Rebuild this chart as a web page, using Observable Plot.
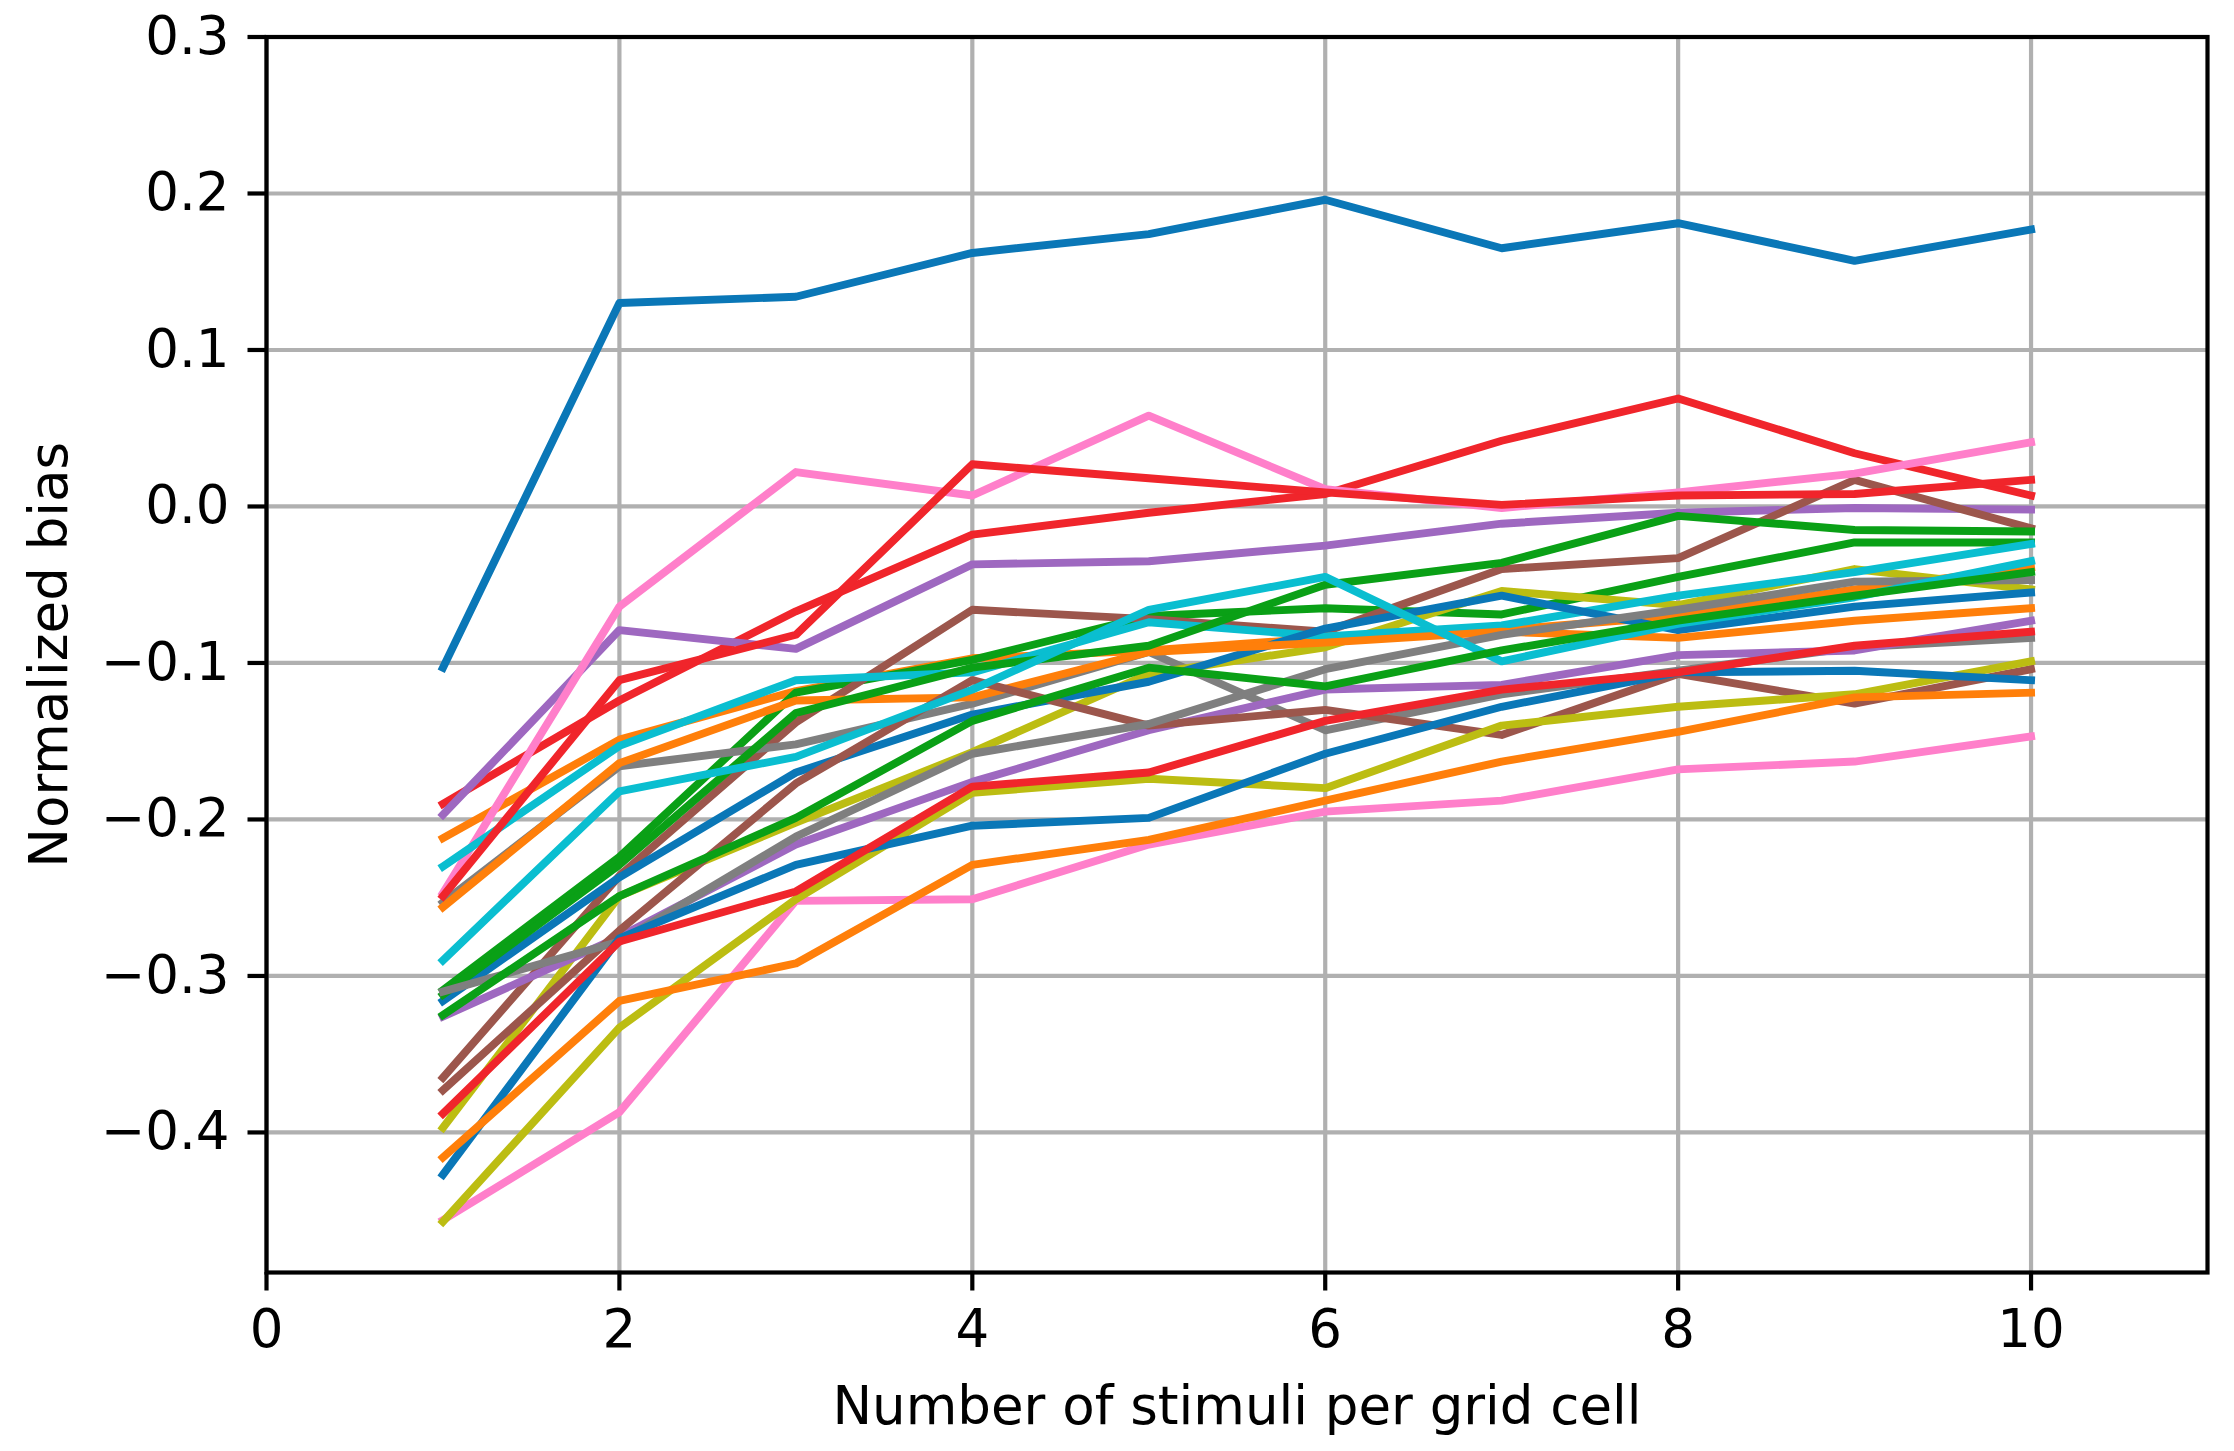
<!DOCTYPE html>
<html>
<head>
<meta charset="utf-8">
<script src="https://cdn.jsdelivr.net/npm/d3@7"></script>
<script src="https://cdn.jsdelivr.net/npm/@observablehq/plot@0.6"></script>
<style>
  html, body { margin: 0; padding: 0; background: #ffffff; }
  #chart svg { display: block; }
</style>
</head>
<body>
<div id="chart"></div>
<script>
// x positions: number of stimuli per grid cell
const stimuli = [1, 2, 3, 4, 5, 6, 7, 8, 9, 10];

// tick values
const xTicks = [0, 2, 4, 6, 8, 10];
const yTicks = [-0.4, -0.3, -0.2, -0.1, 0, 0.1, 0.2, 0.3];

// series values (normalized bias)
const blue1   = [-0.103, 0.130, 0.134, 0.162, 0.174, 0.196, 0.165, 0.181, 0.157, 0.177];
const orange1 = [-0.212, -0.149, -0.118, -0.097, -0.092, -0.084, -0.079, -0.070, -0.053, -0.039];
const green1  = [-0.309, -0.224, -0.119, -0.098, -0.070, -0.065, -0.069, -0.045, -0.023, -0.023];
const red1    = [-0.190, -0.124, -0.067, -0.018, -0.004, 0.008, 0.042, 0.069, 0.034, 0.007];
const purple1 = [-0.197, -0.079, -0.091, -0.037, -0.035, -0.025, -0.011, -0.004, -0.001, -0.002];
const brown1  = [-0.365, -0.236, -0.138, -0.066, -0.072, -0.080, -0.040, -0.033, 0.017, -0.014];
const pink1   = [-0.247, -0.064, 0.022, 0.007, 0.058, 0.011, -0.001, 0.009, 0.021, 0.041];
const gray1   = [-0.253, -0.166, -0.152, -0.126, -0.093, -0.143, -0.120, -0.105, -0.090, -0.084];
const olive1  = [-0.397, -0.249, -0.202, -0.157, -0.107, -0.090, -0.054, -0.063, -0.040, -0.053];
const cyan1   = [-0.230, -0.153, -0.111, -0.106, -0.074, -0.083, -0.076, -0.057, -0.042, -0.024];
const blue2   = [-0.316, -0.237, -0.170, -0.133, -0.112, -0.078, -0.057, -0.079, -0.064, -0.055];
const orange2 = [-0.256, -0.164, -0.124, -0.122, -0.093, -0.087, -0.080, -0.084, -0.073, -0.065];
const green2  = [-0.312, -0.229, -0.132, -0.103, -0.089, -0.050, -0.036, -0.006, -0.015, -0.016];
const red2    = [-0.249, -0.111, -0.082, 0.027, 0.018, 0.009, 0.001, 0.007, 0.008, 0.017];
const purple2 = [-0.326, -0.275, -0.216, -0.176, -0.143, -0.117, -0.114, -0.095, -0.092, -0.073];
const brown2  = [-0.373, -0.271, -0.177, -0.111, -0.140, -0.130, -0.146, -0.107, -0.126, -0.104];
const pink2   = [-0.456, -0.387, -0.252, -0.251, -0.216, -0.195, -0.188, -0.168, -0.163, -0.147];
const gray2   = [-0.310, -0.278, -0.211, -0.158, -0.139, -0.104, -0.082, -0.066, -0.048, -0.047];
const olive2  = [-0.457, -0.333, -0.251, -0.183, -0.174, -0.180, -0.140, -0.128, -0.120, -0.099];
const cyan2   = [-0.290, -0.182, -0.160, -0.117, -0.066, -0.045, -0.099, -0.075, -0.058, -0.035];
const blue3   = [-0.427, -0.276, -0.229, -0.204, -0.199, -0.158, -0.128, -0.106, -0.105, -0.111];
const orange3 = [-0.416, -0.316, -0.292, -0.229, -0.213, -0.188, -0.163, -0.144, -0.122, -0.119];
const green3  = [-0.325, -0.249, -0.199, -0.137, -0.103, -0.115, -0.092, -0.073, -0.057, -0.042];
const red3    = [-0.388, -0.278, -0.246, -0.179, -0.170, -0.137, -0.117, -0.106, -0.089, -0.080];

// colour cycle
const cBlue = "#0a77b7", cOrange = "#ff7f0a", cGreen = "#0aa016", cRed = "#f0252b",
      cPurple = "#9e68c0", cBrown = "#9c564c", cPink = "#ff7fca", cGray = "#7f7f7f",
      cOlive = "#bcbd12", cCyan = "#0abed0";

const seriesList = [
  [blue1, cBlue], [orange1, cOrange], [green1, cGreen], [red1, cRed], [purple1, cPurple],
  [brown1, cBrown], [pink1, cPink], [gray1, cGray], [olive1, cOlive], [cyan1, cCyan],
  [blue2, cBlue], [orange2, cOrange], [green2, cGreen], [red2, cRed], [purple2, cPurple],
  [brown2, cBrown], [pink2, cPink], [gray2, cGray], [olive2, cOlive], [cyan2, cCyan],
  [blue3, cBlue], [orange3, cOrange], [green3, cGreen], [red3, cRed]
];

const fmtY = d => {
  const s = (Math.abs(d) < 1e-9 ? 0 : d).toFixed(1);
  return s.replace("-", "\u2212");
};

const FS = 53;
const gridStyle = {stroke: "#b0b0b0", strokeOpacity: 1, strokeWidth: 4.2};

const lineMarks = seriesList.map(([vals, col]) =>
  Plot.line(stimuli.map((x, i) => ({x, y: vals[i]})), {
    x: "x", y: "y", stroke: col, strokeWidth: 7.9,
    strokeLinejoin: "round", strokeLinecap: "square"
  })
);

const chart = Plot.plot({
  width: 2234,
  height: 1451,
  marginLeft: 266,
  marginRight: 27,
  marginTop: 36.5,
  marginBottom: 179,
  style: {fontFamily: "'DejaVu Sans', sans-serif", fontSize: FS + "px", background: "#ffffff", color: "#000000"},
  x: {domain: [0, 11]},
  y: {domain: [-0.4895, 0.3]},
  marks: [
    Plot.gridX(xTicks, gridStyle),
    Plot.gridY(yTicks, gridStyle),
    ...lineMarks,
    Plot.frame({stroke: "#000000", strokeWidth: 4.2}),
    Plot.axisX(xTicks, {
      tickSize: 18.5, tickPadding: 18.5, strokeWidth: 4.2, fontSize: FS,
      tickFormat: d => String(d),
      label: "Number of stimuli per grid cell", labelAnchor: "center", labelOffset: 151, labelArrow: "none"
    }),
    Plot.axisY(yTicks, {
      tickSize: 18.5, tickPadding: 18.5, strokeWidth: 4.2, fontSize: FS,
      tickFormat: fmtY,
      label: "Normalized bias", labelAnchor: "center", labelOffset: 237, labelArrow: "none"
    })
  ]
});

document.getElementById("chart").appendChild(chart);
</script>
</body>
</html>
